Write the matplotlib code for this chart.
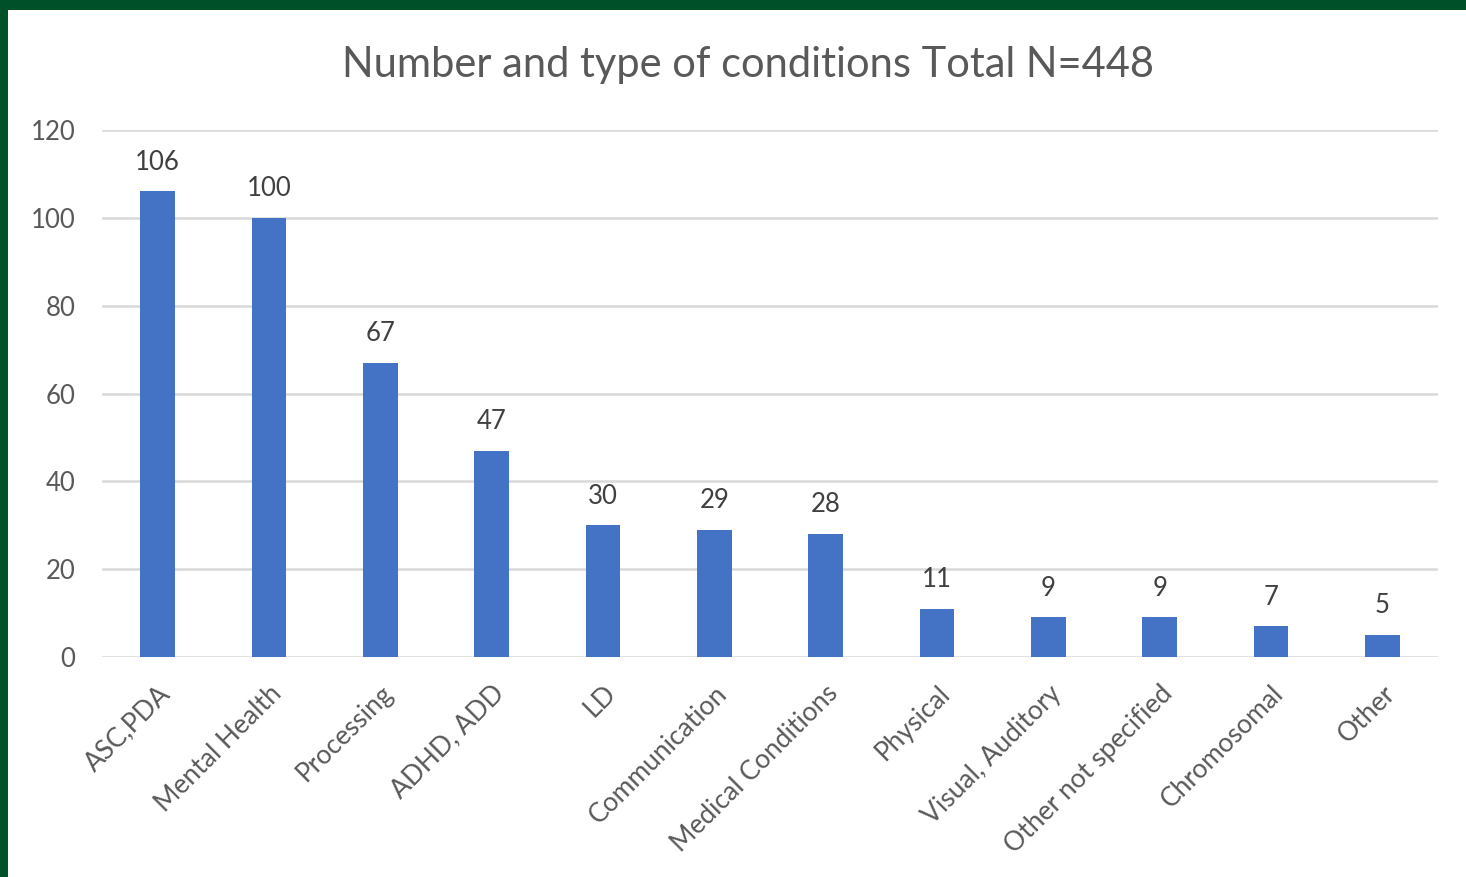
import matplotlib
matplotlib.use("Agg")
import matplotlib.pyplot as plt
from matplotlib.patches import Rectangle

# condition counts
categories = ["ASC,PDA", "Mental Health", "Processing", "ADHD, ADD", "LD",
              "Communication", "Medical Conditions", "Physical", "Visual, Auditory",
              "Other not specified", "Chromosomal", "Other"]
counts = [106, 100, 67, 47, 30, 29, 28, 11, 9, 9, 7, 5]
yticks = [0, 20, 40, 60, 80, 100, 120]
title = "Number and type of conditions Total N=448"

plt.rcParams['font.family'] = ['Lato', 'DejaVu Sans']
grey = '#595959'

fig = plt.figure(figsize=(14.66, 8.77), dpi=100)
fig.patch.set_facecolor('white')

# green frame on top and left edges
fig.patches.append(Rectangle((0, 0.9886), 1, 0.0114, transform=fig.transFigure,
                             facecolor='#00502a', edgecolor='none', zorder=10))
fig.patches.append(Rectangle((0, 0), 0.0055, 1, transform=fig.transFigure,
                             facecolor='#00502a', edgecolor='none', zorder=10))

ax = fig.add_axes([102 / 1466, 1 - 657 / 877, (1438 - 102) / 1466, (657 - 130) / 877])
x = range(len(categories))
ax.bar(x, counts, width=0.31, color='#4472c4', zorder=3)
for xi, v in zip(x, counts):
    ax.text(xi, v + 3.8, str(v), ha='center', va='bottom', fontsize=18.5, color='#404040')

ax.set_xlim(-0.5, len(categories) - 0.5)
ax.set_ylim(0, 120)
ax.set_yticks(yticks)
ax.set_yticklabels([str(t) for t in yticks], fontsize=18.5, color=grey)
ax.set_xticks(list(x))
ax.set_xticklabels(categories, rotation=45, ha='right', rotation_mode='anchor',
                   fontsize=19, color=grey)
ax.tick_params(axis='both', length=0)
ax.tick_params(axis='y', pad=19)
ax.tick_params(axis='x', pad=17)
ax.grid(axis='y', color='#d9d9d9', linewidth=1.8, zorder=0)
for s in ax.spines.values():
    s.set_visible(False)

fig.text(748 / 1466, 1 - 65 / 877, title, ha='center', va='center',
         fontsize=30, color=grey)

fig.savefig("out.png", dpi=100)
